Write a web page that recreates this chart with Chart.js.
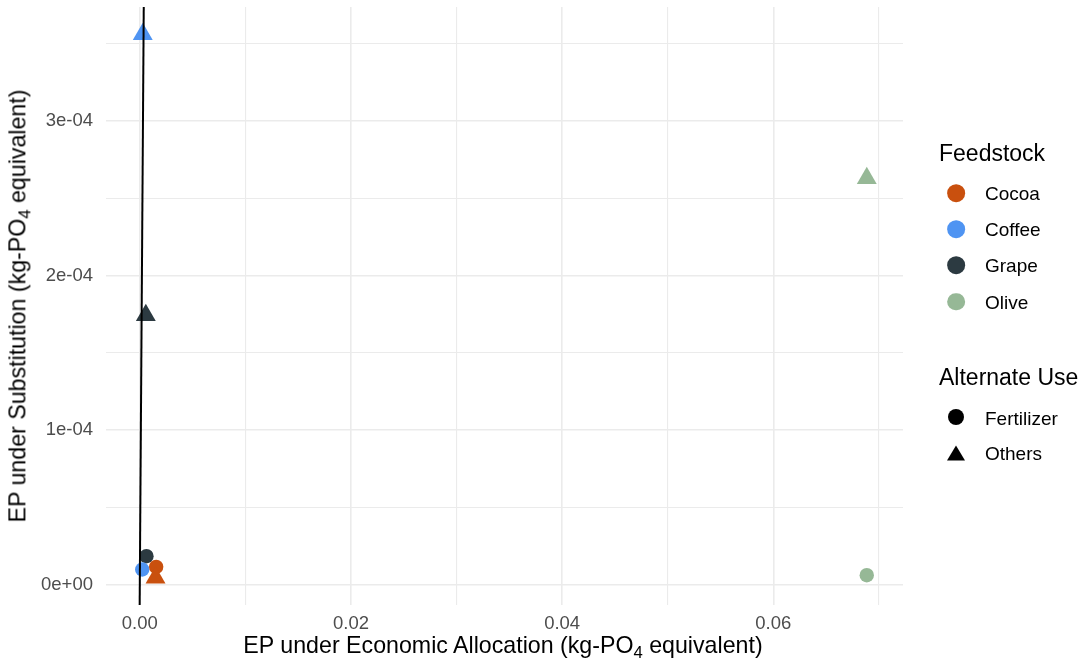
<!DOCTYPE html>
<html>
<head>
<meta charset="utf-8">
<script src="https://cdn.jsdelivr.net/npm/chart.js@4"></script>
<style>
  body { margin: 0; background: #fff; font-family: "Liberation Sans", Arial, sans-serif; }
  #wrap { position: relative; width: 1082px; height: 663px; }
  .lbl { position: absolute; line-height: 1; white-space: nowrap; color: #000; }
  .axis-title { font-size: 23.2px; transform: translate(-50%, -50%); }
  #ytitle { transform: translate(-50%, -50%) rotate(-90deg); }
  sub { font-size: 0.72em; vertical-align: baseline; position: relative; top: 0.3em; line-height: 0; }
  .leg-title { font-size: 23px; transform: translateY(-50%); }
  .leg-text { font-size: 19px; transform: translateY(-50%); }
  .dot { position: absolute; border-radius: 50%; transform: translate(-50%, -50%); }
  .tri { position: absolute; width: 0; height: 0; border-left: 9.7px solid transparent;
         border-right: 9.7px solid transparent; border-bottom: 15px solid #000;
         transform: translate(-50%, -50%); }
</style>
</head>
<body>
<div id="wrap">
  <canvas id="epChart"></canvas>
  <div class="lbl axis-title" style="left:503px; top:645.5px;">EP under Economic Allocation (kg-PO<sub>4</sub> equivalent)</div>
  <div class="lbl axis-title" id="ytitle" style="left:18px; top:306px;">EP under Substitution (kg-PO<sub>4</sub> equivalent)</div>
  <div id="legend"></div>
</div>
<script>
// Feedstocks and their point colours
const feedstocks = ['Cocoa', 'Coffee', 'Grape', 'Olive'];
const feedstockColors = ['#C9500E', '#4F94F2', '#2C3A41', '#96B896'];

// EP values (kg-PO4 eq) per feedstock, alternate use = Fertilizer
const fertilizerEconomic = [0.00155, 0.00023, 0.00063, 0.06885];
const fertilizerSubstitution = [1.14e-5, 0.97e-5, 1.83e-5, 0.60e-5];

// alternate use = Others
const othersEconomic = [0.00149, 0.00028, 0.00057, 0.06885];
const othersSubstitution = [0.43e-5, 3.562e-4, 1.742e-4, 2.630e-4];

// gridlines: major ones get a label, minor ones stay blank
const xBreaks = [0, 0.01, 0.02, 0.03, 0.04, 0.05, 0.06, 0.07];
const xLabels = ['0.00', '', '0.02', '', '0.04', '', '0.06', ''];
const yBreaks = [0, 0.5e-4, 1e-4, 1.5e-4, 2e-4, 2.5e-4, 3e-4, 3.5e-4];
const yLabels = ['0e+00', '', '1e-04', '', '2e-04', '', '3e-04', ''];

const useNames = ['Fertilizer', 'Others'];

// 5% padding on both sides like ggplot's default expansion
function expand(vals) {
  const lo = Math.min(...vals), hi = Math.max(...vals);
  const pad = (hi - lo) * 0.05;
  return [lo - pad, hi + pad];
}
const [xMin, xMax] = expand(fertilizerEconomic.concat(othersEconomic));
const [yMin, yMax] = expand(fertilizerSubstitution.concat(othersSubstitution));

Chart.defaults.font.family = '"Liberation Sans", Arial, sans-serif';

const datasets = [{
  // 1:1 reference line
  type: 'line',
  label: 'y = x',
  data: [{x: yMin, y: yMin}, {x: yMax, y: yMax}],
  borderColor: '#000',
  borderWidth: 2,
  pointRadius: 0,
  fill: false,
  order: 0
}];
feedstocks.forEach((name, i) => {
  datasets.push({
    type: 'scatter',
    label: name,
    data: [
      {x: fertilizerEconomic[i], y: fertilizerSubstitution[i]},
      {x: othersEconomic[i], y: othersSubstitution[i]}
    ],
    pointStyle: ['circle', 'triangle'],
    pointRadius: [7.2, 11.5],
    backgroundColor: feedstockColors[i],
    borderWidth: 0,
    order: i + 1
  });
});

const tickFont = {size: 18.5};
const gridStyle = {
  color: '#EBEBEB',
  lineWidth: (ctx) => ctx.index % 2 === 0 ? 1.6 : 1.1,
  drawTicks: false
};

new Chart(document.getElementById('epChart'), {
  data: {datasets: datasets},
  options: {
    responsive: true,
    maintainAspectRatio: false,
    animation: false,
    events: [],
    layout: {autoPadding: false, padding: {left: 0, right: 179, top: 7, bottom: 0}},
    plugins: {legend: {display: false}, tooltip: {enabled: false}},
    scales: {
      x: {
        type: 'linear',
        min: xMin,
        max: xMax,
        afterBuildTicks: (s) => { s.ticks = xBreaks.map(v => ({value: v})); },
        afterFit: (s) => { s.height = 58; s.paddingLeft = 0; s.paddingRight = 0; },
        ticks: {
          callback: (v, i) => xLabels[i],
          font: tickFont,
          color: '#4D4D4D',
          padding: 8,
          maxRotation: 0,
          autoSkip: false
        },
        grid: gridStyle,
        border: {display: false}
      },
      y: {
        type: 'linear',
        min: yMin,
        max: yMax,
        afterBuildTicks: (s) => { s.ticks = yBreaks.map(v => ({value: v})); },
        afterFit: (s) => { s.width = 106; s.paddingTop = 0; s.paddingBottom = 0; },
        ticks: {
          callback: (v, i) => yLabels[i],
          font: tickFont,
          color: '#4D4D4D',
          padding: 13,
          autoSkip: false
        },
        grid: gridStyle,
        border: {display: false}
      }
    }
  }
});

// legend on the right: colour by feedstock, shape by alternate use
const legend = document.getElementById('legend');
function add(html) { legend.insertAdjacentHTML('beforeend', html); }
const feedRows = [193, 229, 265.3, 301.7];
add('<div class="lbl leg-title" style="left:939px; top:153.3px;">Feedstock</div>');
feedstocks.forEach((name, i) => {
  add('<div class="dot" style="left:956px; top:' + feedRows[i] + 'px; width:17.7px; height:17.7px; background:' + feedstockColors[i] + ';"></div>');
  add('<div class="lbl leg-text" style="left:985px; top:' + feedRows[i] + 'px;">' + name + '</div>');
});
add('<div class="lbl leg-title" style="left:939px; top:376.8px;">Alternate Use</div>');
add('<div class="dot" style="left:956px; top:417px; width:16px; height:16px; background:#000;"></div>');
add('<div class="lbl leg-text" style="left:985px; top:417.5px;">' + useNames[0] + '</div>');
add('<div class="tri" style="left:956.3px; top:452.5px;"></div>');
add('<div class="lbl leg-text" style="left:985px; top:453px;">' + useNames[1] + '</div>');
</script>
</body>
</html>
